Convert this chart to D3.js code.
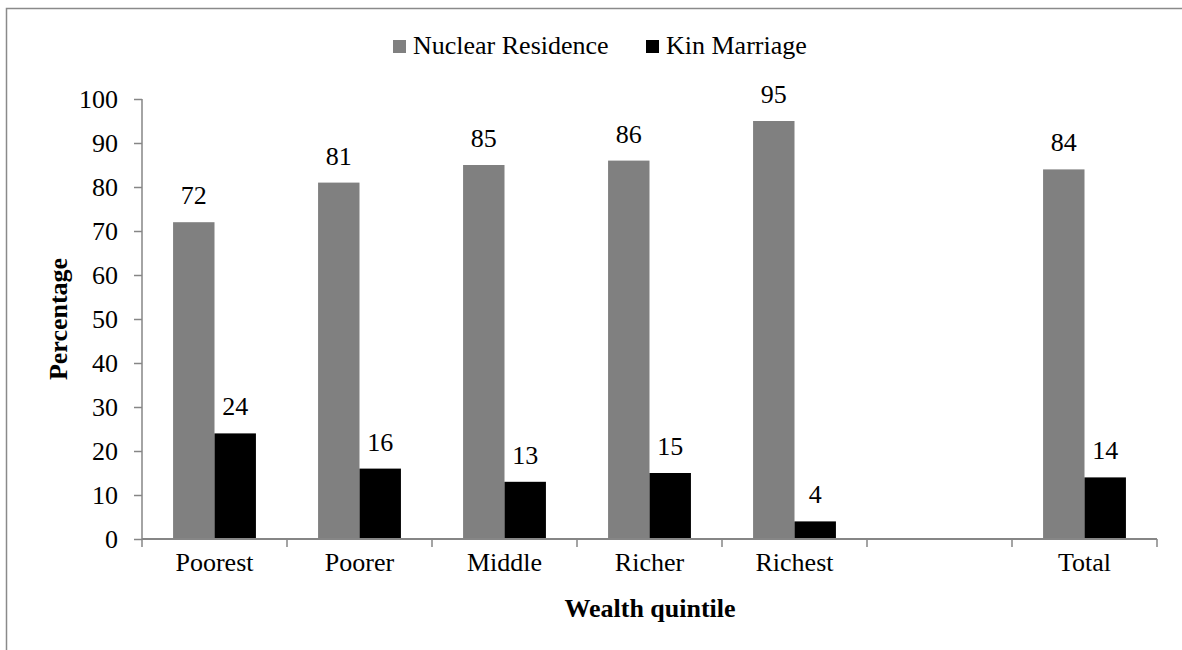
<!DOCTYPE html>
<html>
<head>
<meta charset="utf-8">
<script src="https://cdn.jsdelivr.net/npm/d3@7"></script>
<style>
  body { margin: 0; background: #fff; }
  svg text { font-family: "Liberation Serif", "Times New Roman", serif; fill: #000; }
</style>
</head>
<body>
<div id="wrap"></div>
<script>
// data
const categories = ["Poorest", "Poorer", "Middle", "Richer", "Richest", "", "Total"];
const seriesNames = ["Nuclear Residence", "Kin Marriage"];
const nuclearResidence = [72, 81, 85, 86, 95, null, 84];
const kinMarriage = [24, 16, 13, 15, 4, null, 14];
const yTicks = [0, 10, 20, 30, 40, 50, 60, 70, 80, 90, 100];
const colors = ["#808080", "#000000"];

const width = 1182, height = 650;
const margin = {top: 99, right: 25, bottom: 111, left: 142};
const innerW = width - margin.left - margin.right,
      innerH = height - margin.top - margin.bottom;

const svg = d3.select("#wrap").append("svg")
    .attr("width", width)
    .attr("height", height);

// outer frame (runs past the right and bottom edges)
svg.append("rect")
    .attr("x", 6.5).attr("y", 8.5)
    .attr("width", width + 20).attr("height", height + 20)
    .attr("fill", "none")
    .attr("stroke", "#8a8a8a")
    .attr("stroke-width", 1.5);

const g = svg.append("g")
    .attr("transform", "translate(" + margin.left + "," + margin.top + ")");

// scales
const keys = categories.map((c, i) => i);
const x = d3.scaleBand().domain(keys).range([0, innerW]).padding(0);
const xSub = d3.scaleBand().domain([0, 1]).range([0, x.bandwidth()])
    .paddingInner(0).paddingOuter(0.75);
const y = d3.scaleLinear().domain([0, 100]).range([innerH, 0]);

// bars
const rows = keys.map(i => ({i: i, vals: [nuclearResidence[i], kinMarriage[i]]}));
const groups = g.selectAll(".grp")
    .data(rows)
  .enter().append("g")
    .attr("class", "grp")
    .attr("transform", d => "translate(" + x(d.i) + ",0)");

const cells = groups.selectAll(".bar")
    .data(d => d.vals.map((v, s) => ({v: v, s: s})).filter(d => d.v != null))
  .enter();

cells.append("rect")
    .attr("class", "bar")
    .attr("x", d => xSub(d.s))
    .attr("width", xSub.bandwidth())
    .attr("y", d => y(d.v))
    .attr("height", d => innerH - y(d.v))
    .attr("fill", d => colors[d.s]);

cells.append("text")
    .attr("x", d => xSub(d.s) + xSub.bandwidth() / 2)
    .attr("y", d => y(d.v) - 18)
    .attr("text-anchor", "middle")
    .style("font-size", "26px")
    .text(d => d.v);

// y axis
const yAxis = g.append("g")
    .call(d3.axisLeft(y).tickValues(yTicks).tickSize(8).tickPadding(16));
yAxis.selectAll("path, line").attr("stroke", "#868686").attr("stroke-width", 1.5);
yAxis.select(".domain").attr("d", "M0," + innerH + "V0");
yAxis.selectAll("text").style("font-size", "26px").style("font-family", "Liberation Serif");

// x axis: labels at band centres, ticks at band edges
const xAxis = g.append("g")
    .attr("transform", "translate(0," + innerH + ")")
    .call(d3.axisBottom(x).tickSize(0).tickPadding(14).tickFormat(i => categories[i]));
xAxis.select(".domain").attr("d", "M0,0H" + innerW)
    .attr("stroke", "#868686").attr("stroke-width", 2);
xAxis.selectAll("text").style("font-size", "26px").style("font-family", "Liberation Serif")
    .attr("dy", "0.71em");

const edges = keys.map(i => x(i)).concat([innerW]);
xAxis.selectAll(".edge")
    .data(edges)
  .enter().append("line")
    .attr("class", "edge")
    .attr("x1", d => d).attr("x2", d => d)
    .attr("y1", 0).attr("y2", 8)
    .attr("stroke", "#868686").attr("stroke-width", 1.5);

// axis titles
svg.append("text")
    .attr("transform", "translate(" + 67 + "," + (margin.top + innerH / 2) + ") rotate(-90)")
    .attr("text-anchor", "middle")
    .style("font-size", "26px")
    .style("font-weight", "bold")
    .text("Percentage");

svg.append("text")
    .attr("x", 650)
    .attr("y", 617)
    .attr("text-anchor", "middle")
    .style("font-size", "26px")
    .style("font-weight", "bold")
    .text("Wealth quintile");

// legend
const legendX = [393, 646];
const legend = svg.selectAll(".leg")
    .data(seriesNames)
  .enter().append("g")
    .attr("class", "leg")
    .attr("transform", (d, i) => "translate(" + legendX[i] + ",40)");
legend.append("rect")
    .attr("width", 13).attr("height", 13)
    .attr("fill", (d, i) => colors[i]);
legend.append("text")
    .attr("x", 20).attr("y", 14)
    .style("font-size", "26px")
    .text(d => d);
</script>
</body>
</html>
